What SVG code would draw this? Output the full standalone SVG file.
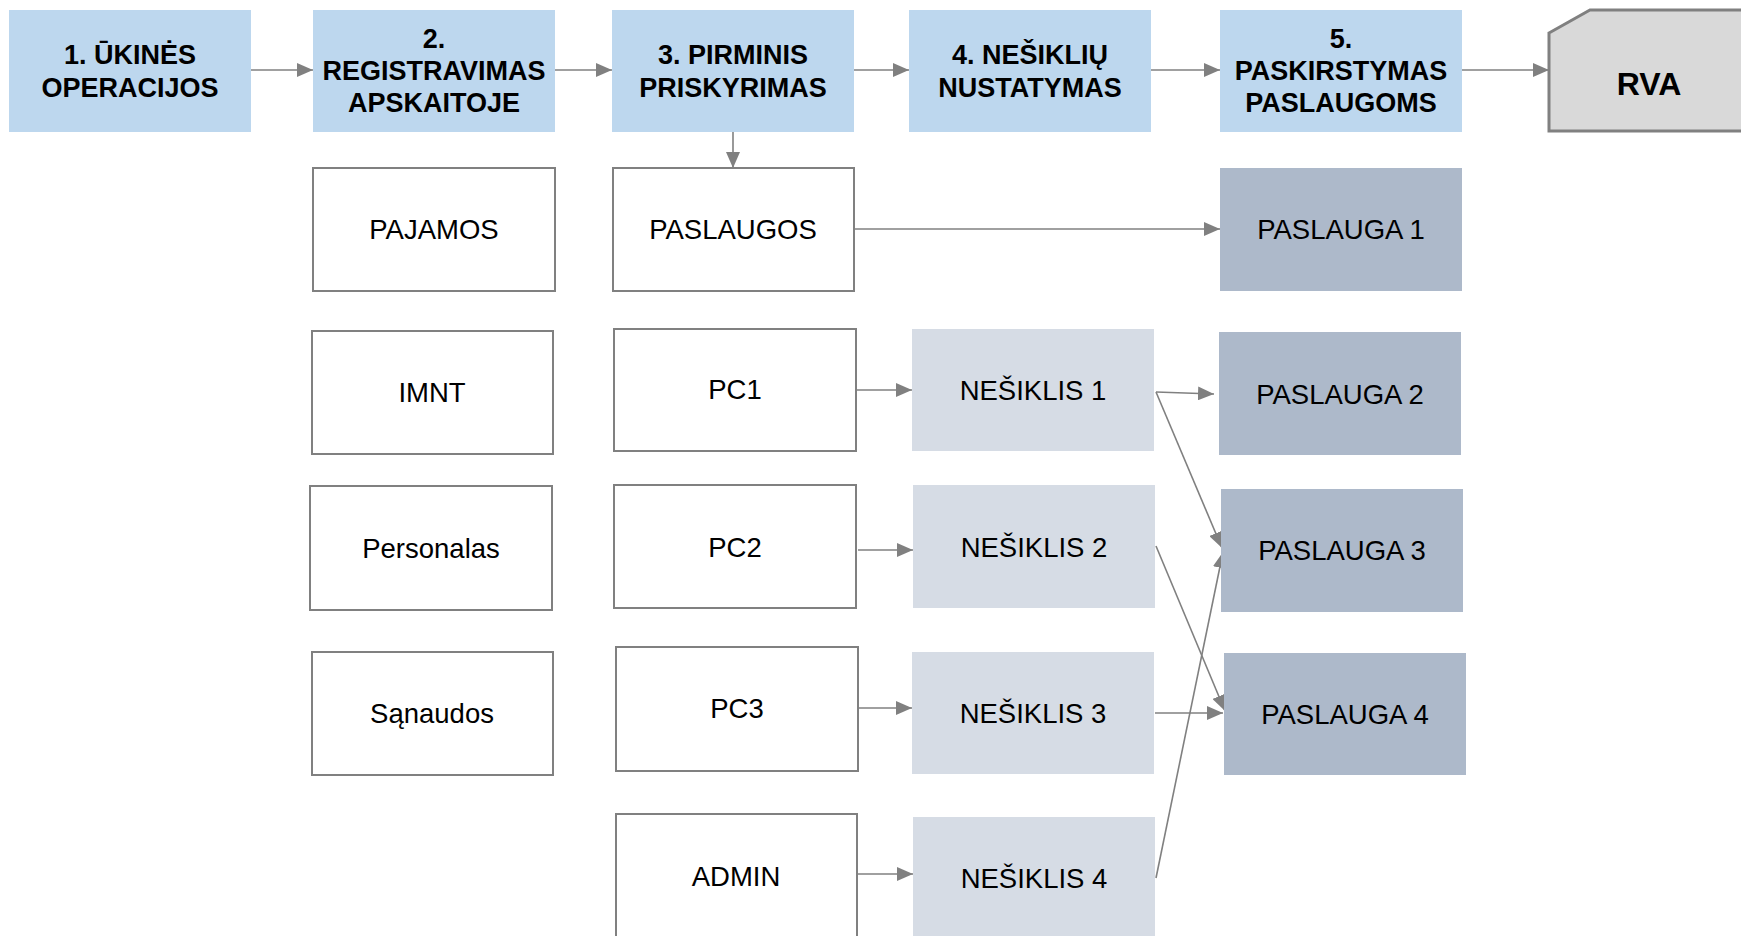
<svg xmlns="http://www.w3.org/2000/svg" width="1741" height="936" viewBox="0 0 1741 936">
<style>
.hdr{fill:#BDD7EE}
.wbox{fill:#FFFFFF;stroke:#808080;stroke-width:2}
.nes{fill:#D6DCE5}
.pas{fill:#ADB9CA}
.rva{fill:#D9D9D9;stroke:#808080;stroke-width:3}
.ht{font-family:"Liberation Sans",Arial,sans-serif;font-weight:bold;font-size:27px;fill:#000;text-anchor:middle}
.bt{font-family:"Liberation Sans",Arial,sans-serif;font-size:27.5px;fill:#000;text-anchor:middle}
.rt{font-family:"Liberation Sans",Arial,sans-serif;font-weight:bold;font-size:32px;fill:#000;text-anchor:middle}
.c{stroke:#808080;stroke-width:1.6;fill:none;marker-end:url(#ah)}
</style>
<defs>
<marker id="ah" markerUnits="userSpaceOnUse" markerWidth="16" markerHeight="14" refX="16" refY="7" orient="auto">
<path d="M0,0 L16,7 L0,14 z" fill="#808080"/>
</marker>
</defs>
<rect width="1741" height="936" fill="#FFFFFF"/>
<g id="connectors">
<line class="c" x1="251" y1="70" x2="313" y2="70"/>
<line class="c" x1="555" y1="70" x2="612" y2="70"/>
<line class="c" x1="854" y1="70" x2="909" y2="70"/>
<line class="c" x1="1151" y1="70" x2="1220" y2="70"/>
<line class="c" x1="1462" y1="70" x2="1549" y2="70"/>
<line class="c" x1="733" y1="132" x2="733" y2="168"/>
<line class="c" x1="854" y1="229" x2="1220" y2="229"/>
<line class="c" x1="856" y1="390" x2="912" y2="390"/>
<line class="c" x1="858" y1="550" x2="913" y2="550"/>
<line class="c" x1="856" y1="708" x2="912" y2="708"/>
<line class="c" x1="857" y1="874" x2="913" y2="874"/>
<line class="c" x1="1156" y1="392" x2="1214" y2="394"/>
<line class="c" x1="1156" y1="392" x2="1222" y2="548"/>
<line class="c" x1="1156" y1="546" x2="1225" y2="711"/>
<line class="c" x1="1155" y1="713" x2="1223" y2="713"/>
<line class="c" x1="1156" y1="878" x2="1223" y2="552"/>
</g>
<g id="h1"><rect class="hdr" x="9" y="10" width="242" height="122"/>
<text class="ht" x="130" y="64">1. ŪKINĖS</text><text class="ht" x="130" y="97">OPERACIJOS</text></g>
<g id="h2"><rect class="hdr" x="313" y="10" width="242" height="122"/>
<text class="ht" x="434" y="48">2.</text><text class="ht" x="434" y="80">REGISTRAVIMAS</text><text class="ht" x="434" y="112">APSKAITOJE</text></g>
<g id="h3"><rect class="hdr" x="612" y="10" width="242" height="122"/>
<text class="ht" x="733" y="64">3. PIRMINIS</text><text class="ht" x="733" y="97">PRISKYRIMAS</text></g>
<g id="h4"><rect class="hdr" x="909" y="10" width="242" height="122"/>
<text class="ht" x="1030" y="64">4. NEŠIKLIŲ</text><text class="ht" x="1030" y="97">NUSTATYMAS</text></g>
<g id="h5"><rect class="hdr" x="1220" y="10" width="242" height="122"/>
<text class="ht" x="1341" y="48">5.</text><text class="ht" x="1341" y="80">PASKIRSTYMAS</text><text class="ht" x="1341" y="112">PASLAUGOMS</text></g>
<g id="rva"><polygon class="rva" points="1549,33 1590,10 1745,10 1745,131 1549,131"/>
<text class="rt" x="1649" y="95">RVA</text></g>
<g id="pajamos"><rect class="wbox" x="313" y="168" width="242" height="123"/><text class="bt" x="434" y="239">PAJAMOS</text></g>
<g id="imnt"><rect class="wbox" x="312" y="331" width="241" height="123"/><text class="bt" x="432" y="402">IMNT</text></g>
<g id="personalas"><rect class="wbox" x="310" y="486" width="242" height="124"/><text class="bt" x="431" y="558">Personalas</text></g>
<g id="sanaudos"><rect class="wbox" x="312" y="652" width="241" height="123"/><text class="bt" x="432" y="723">Sąnaudos</text></g>
<g id="paslaugos"><rect class="wbox" x="613" y="168" width="241" height="123"/><text class="bt" x="733" y="239">PASLAUGOS</text></g>
<g id="pc1"><rect class="wbox" x="614" y="329" width="242" height="122"/><text class="bt" x="735" y="399">PC1</text></g>
<g id="pc2"><rect class="wbox" x="614" y="485" width="242" height="123"/><text class="bt" x="735" y="557">PC2</text></g>
<g id="pc3"><rect class="wbox" x="616" y="647" width="242" height="124"/><text class="bt" x="737" y="718">PC3</text></g>
<g id="admin"><rect class="wbox" x="616" y="814" width="241" height="130"/><text class="bt" x="736" y="886">ADMIN</text></g>
<g id="n1"><rect class="nes" x="912" y="329" width="242" height="122"/><text class="bt" x="1033" y="400">NEŠIKLIS 1</text></g>
<g id="n2"><rect class="nes" x="913" y="485" width="242" height="123"/><text class="bt" x="1034" y="557">NEŠIKLIS 2</text></g>
<g id="n3"><rect class="nes" x="912" y="652" width="242" height="122"/><text class="bt" x="1033" y="723">NEŠIKLIS 3</text></g>
<g id="n4"><rect class="nes" x="913" y="817" width="242" height="125"/><text class="bt" x="1034" y="888">NEŠIKLIS 4</text></g>
<g id="p1"><rect class="pas" x="1220" y="168" width="242" height="123"/><text class="bt" x="1341" y="239">PASLAUGA 1</text></g>
<g id="p2"><rect class="pas" x="1219" y="332" width="242" height="123"/><text class="bt" x="1340" y="404">PASLAUGA 2</text></g>
<g id="p3"><rect class="pas" x="1221" y="489" width="242" height="123"/><text class="bt" x="1342" y="560">PASLAUGA 3</text></g>
<g id="p4"><rect class="pas" x="1224" y="653" width="242" height="122"/><text class="bt" x="1345" y="724">PASLAUGA 4</text></g>
</svg>
